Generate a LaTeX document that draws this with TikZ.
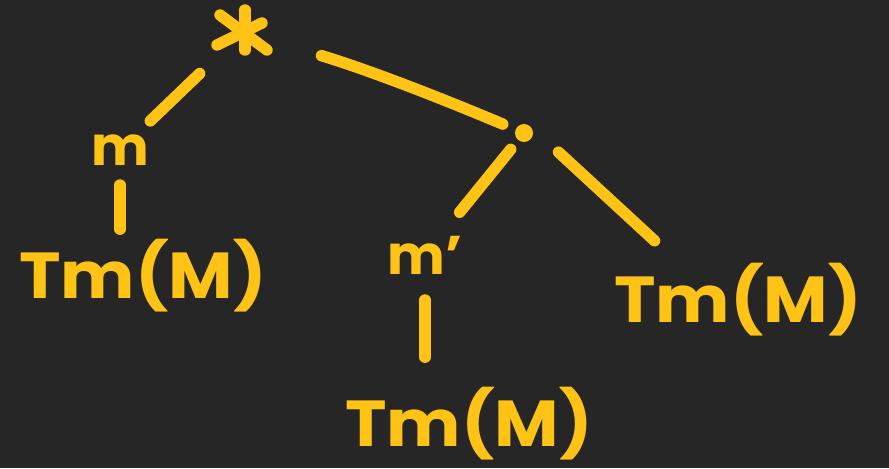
\documentclass[tikz,border=0pt]{standalone}
\usepackage{fontspec}
\setmainfont{Poppins}
\usepackage{tikz}

\definecolor{board}{RGB}{38,38,38}
\definecolor{chalk}{RGB}{255,195,22}

\tikzset{
  edge/.style={chalk, line width=6.5pt, line cap=round},
  bigterm/.style={text=chalk, inner sep=0pt, font=\fontsize{37}{44}\bfseries\selectfont, xscale=1.08},
  smallterm/.style={text=chalk, inner sep=0pt, font=\fontsize{31}{36}\bfseries\selectfont}
}

\begin{document}
\begin{tikzpicture}[x=0.02cm, y=-0.02cm]
    % Background
    \fill[board] (0,0) rectangle (889,468);
    \useasboundingbox (0,0) rectangle (889,468);

    % Root and inner vertex
    \node[minimum size=50*0.02cm, inner sep=0pt] (star) at (243,32) {};
    \draw[edge] (220,15) -- (267,50);
    \draw[edge] (217,45) -- (262,23);
    \draw[edge] (245,10) -- (245,50);
    \node[circle, fill=chalk, minimum size=18*0.02cm, inner sep=0pt] (dot) at (524,133) {};

    % Labels
    \node[smallterm] (mL) at (120,150) {m};
    \node[smallterm] (mP) at (425,255) {m'};
    \node[bigterm] (TmL) at (143,276) {Tm(M)};
    \node[bigterm] (TmM) at (469,424) {Tm(M)};
    \node[bigterm] (TmR) at (738,300) {Tm(M)};
    \coordinate (TmRtip) at (670,255);

    % Edges
    \draw[edge, shorten <=1.2cm, shorten >=0.84cm] (star.center) -- (mL.center);
    \draw[edge, shorten <=1.64cm, shorten >=0.46cm] (star.center) to[bend left=3] (dot.center);
    \draw[edge, shorten <=0.76cm, shorten >=0.42cm] (dot.north east) -- (TmRtip);
    \draw[edge, shorten <=0.42cm, shorten >=1.1cm] (dot.center) -- (mP.center);
    \draw[edge, shorten <=0.7cm, shorten >=0.2cm] (mL.center) -- (mL.center |- TmL.north);
    \draw[edge, shorten <=0.9cm, shorten >=0.6cm] (mP.center) -- (mP.center |- TmM.north);
\end{tikzpicture}
\end{document}
